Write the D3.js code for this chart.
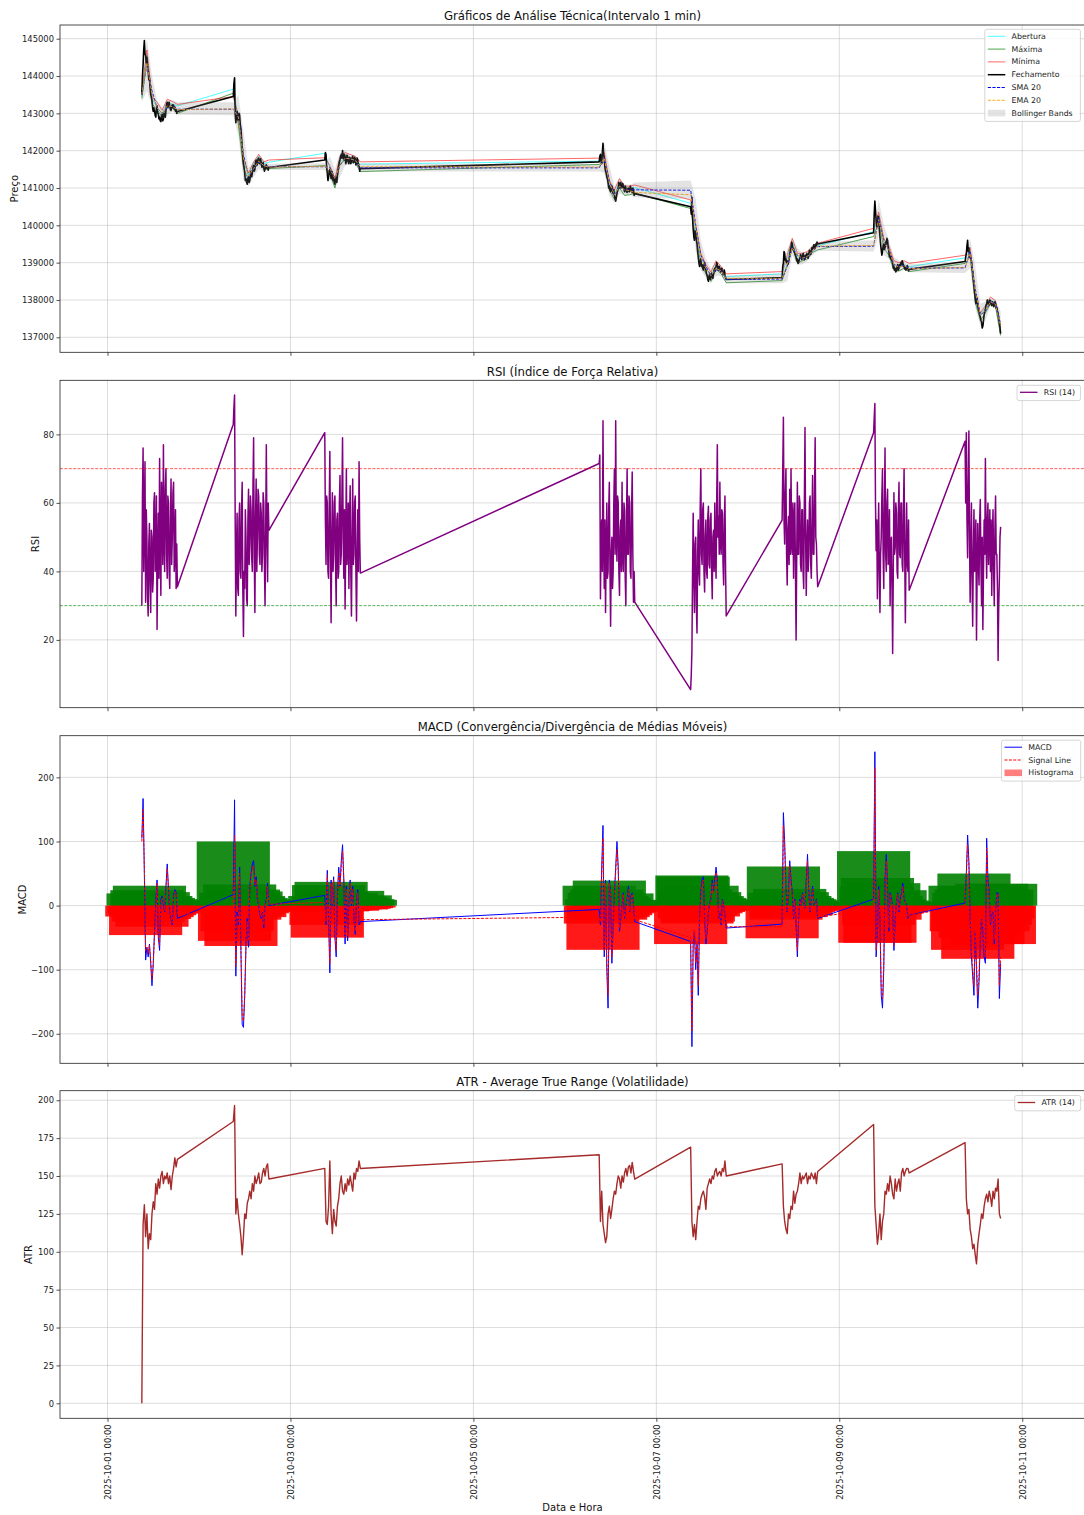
<!DOCTYPE html>
<html><head><meta charset="utf-8">
<script src="https://cdn.jsdelivr.net/npm/d3@7"></script>
<style>
body{margin:0;background:#fff}
svg{display:block}
text{font-family:"DejaVu Sans",sans-serif}
</style>
</head><body>
<svg id="chart" width="1084" height="1515"></svg>
<script>
// ---------------- DATA ----------------
const sessionDates = ["2025-10-01","2025-10-02","2025-10-03","2025-10-06","2025-10-07","2025-10-08","2025-10-09","2025-10-10"];
const sessionOpenHour = 9;
const denseStepMin = 10;   // close, RSI
const fineStepMin = 20;    // MACD, signal, histogram, ATR
const coarseStepMin = 80;  // open, max, min, SMA, EMA, Bollinger
const xLimits = ["2025-09-30T11:32:00Z","2025-10-11T16:28:00Z"];
const xTickLabels = ["2025-10-01 00:00","2025-10-03 00:00","2025-10-05 00:00","2025-10-07 00:00","2025-10-09 00:00","2025-10-11 00:00"];

const priceTicks = [137000,138000,139000,140000,141000,142000,143000,144000,145000];
const rsiTicks = [20,40,60,80];
const macdTicks = [-200,-100,0,100,200];
const atrTicks = [0,25,50,75,100,125,150,175,200];
const priceLimits = [136598,145367];
const rsiLimits = [0.2,95.8];
const macdLimits = [-246,265];
const atrLimits = [-9.9,206.3];
const rsiLevels = [70,30];

// Fechamento (10-min, per session)
const closeV = [
 [143500,144000,144300,144700,144950,144600,144550,144350,144500,144250,144150,143900,143950,143700,143500,143450,143350,143150,143050,143150,143080,142950,142900,143100,143200,143000,142980,142850,142900,142800,142780,142920,142980,142800,142850,143000,142980,142900,143080,143250,143300,143150,143250,143300,143200,143100,143080,143180,143230,143150,143220,143120,143170,143060,143100,143000,143050],
 [143450,143800,143950,143000,142750,142900,143050,142850,142800,143000,142950,142700,142600,142350,142100,141850,141650,141550,141400,141200,141250,141150,141100,141250,141300,141150,141200,141350,141450,141300,141400,141550,141600,141450,141500,141700,141750,141600,141650,141780,141800,141650,141700,141780,141680,141560,141600,141680,141550,141450,141500,141600,141620,141520,141580,141480,141550],
 [141750,141950,141900,141550,141400,141200,141300,141450,141500,141350,141250,141450,141400,141200,141300,141150,141100,141300,141250,141150,141350,141500,141600,141700,141750,141850,141900,141800,142000,141850,141750,141900,141850,141650,141700,141880,141850,141700,141650,141820,141800,141650,141700,141820,141850,141680,141700,141820,141780,141620,141650,141800,141750,141600,141620,141450,141520],
 [141700,141850,141900,141700,141650,141950,142200,141900,141800,141550,141450,141400,141300,141250,141150,141000,141050,140950,140900,141000,141050,140900,140850,140950,140800,140700,140650,140750,140850,140950,141000,141150,141100,141000,141150,141050,141000,141120,141050,140950,140900,141050,141000,140900,140880,140980,141000,140900,140900,141050,141000,140920,140880,141000,140950,140800,140850],
 [140500,140300,140750,140200,139900,139700,139600,139850,139800,139600,139500,139300,139150,139000,138900,139050,139100,138900,138950,138850,138800,138950,139000,138850,138800,138700,138650,138550,138500,138650,138700,138550,138600,138720,138650,138580,138700,138800,138850,138780,138900,139000,138950,138850,138800,138900,138850,138750,138780,138850,138750,138680,138720,138800,138650,138600,138550],
 [138600,138900,139000,139300,139250,139050,139100,139000,139050,138950,139000,139100,139200,139350,139400,139550,139500,139350,139380,139300,139250,139200,139150,139050,139100,138980,139000,139080,139120,139220,139180,139080,139120,139250,139200,139080,139100,139200,139150,139250,139180,139120,139250,139330,139280,139220,139320,139400,139350,139420,139480,139380,139420,139500,139450,139550,139500],
 [139800,140300,140650,140400,140150,139950,140000,140250,140200,139900,139700,139500,139350,139200,139300,139450,139500,139350,139400,139550,139500,139650,139600,139400,139300,139150,139250,139100,139150,139050,139000,138850,138900,138800,138850,138750,138780,138900,138950,138800,138850,138950,138900,139000,138950,139050,139000,138900,138920,138830,138880,138800,138850,138920,138870,138780,138820],
 [139030,139150,139250,139450,139600,139300,139400,139150,139250,139100,139050,138850,138750,138550,138400,138200,138050,137900,137950,138050,137850,137750,137700,137600,137550,137450,137400,137250,137300,137450,137600,137700,137750,137850,137900,138000,137950,137850,137880,138000,137980,137880,137850,137950,137920,137820,137850,137950,137900,137780,137800,137700,137650,137500,137400,137250,137100]
];
// Abertura (coarse)
const openV = [
 [143450,144550,143400,143150,143000,143280,143250,143200],
 [143650,142850,141700,141350,141650,141850,141650,141690],
 [141930,141550,141150,141700,141800,141780,141750,141640],
 [141720,141850,141100,140850,141150,140950,140950,141010],
 [140590,139900,139150,138850,138650,138950,138800,138630],
 [138700,139100,139550,139150,139150,139220,139400,139450],
 [139830,140250,139550,139350,138950,138900,138950,138890],
 [139130,139300,138150,137600,137800,138000,137920,137200]
];
// Máxima (coarse, green line)
const maximaV = [
 [143400,144400,143250,143100,142900,143200,143150,143000],
 [143540,142700,141550,141200,141500,141700,141500,141520],
 [141600,141400,141000,141650,141750,141700,141680,141440],
 [141630,141700,140950,140700,141000,140800,140820,140860],
 [140450,139700,139000,138700,138500,138820,138700,138460],
 [138520,138950,139400,139000,139050,139100,139280,139340],
 [139700,140100,139400,139200,138800,138780,138850,138760],
 [138980,139150,137950,137450,137650,137900,137820,137050]
];
// Mínima (coarse, red line)
const minimaV = [
 [143600,144700,143450,143300,143080,143380,143320,143240],
 [143450,142950,141800,141400,141700,141900,141700,141750],
 [141810,141600,141250,141850,141950,141900,141850,141700],
 [141800,141950,141200,140950,141250,141050,141050,141080],
 [140680,140000,139250,138950,138750,139050,138900,138700],
 [138760,139200,139650,139250,139250,139300,139450,139520],
 [139920,140350,139650,139450,139050,139000,139050,138980],
 [139200,139400,138200,137650,137850,138080,137980,137250]
];
const sma20V = [
 [143500,144300,143600,143150,143000,143150,143200,143110],
 [143110,142950,141900,141300,141500,141700,141600,141570],
 [141570,141550,141250,141600,141800,141780,141750,141540],
 [141540,141800,141200,140800,141050,140950,140950,140950],
 [140940,140000,139200,138900,138650,138800,138800,138550],
 [138560,138900,139400,139200,139100,139150,139300,139430],
 [139440,140200,139600,139350,138950,138900,138920,138850],
 [138860,139300,138300,137600,137700,137950,137900,137350]
];
const ema20V = [
 [143500,144350,143500,143150,143000,143200,143180,143100],
 [143120,142900,141800,141320,141520,141720,141600,141560],
 [141580,141520,141250,141620,141800,141780,141740,141570],
 [141560,141800,141150,140820,141050,140950,140930,140880],
 [140820,139950,139150,138850,138650,138850,138780,138580],
 [138580,138950,139400,139200,139120,139170,139320,139440],
 [139460,140150,139550,139350,138950,138880,138920,138840],
 [138870,139250,138250,137600,137720,137950,137880,137300]
];
const bbUpperV = [
 [143700,145000,144000,143350,143150,143350,143350,143300],
 [143300,143500,142500,141550,141700,141900,141750,141650],
 [141660,141850,141500,141950,142000,141900,141850,141650],
 [141640,142200,141600,141050,141250,141100,141080,141150],
 [141200,140700,139600,139100,138850,139000,138900,138650],
 [138700,139350,139650,139400,139250,139280,139450,139550],
 [139600,140700,140000,139600,139150,139050,139000,138960],
 [139000,139650,138900,137900,137950,138050,138000,137700]
];
const bbLowerV = [
 [143300,143600,143200,142950,142850,142950,143050,142960],
 [142950,142400,141200,141050,141300,141500,141450,141480],
 [141480,141250,141000,141300,141600,141650,141620,141440],
 [141440,141400,140800,140600,140850,140800,140820,140750],
 [140700,139300,138800,138600,138450,138650,138650,138450],
 [138450,138500,139200,138950,138950,139050,139200,139320],
 [139300,139700,139200,139100,138750,138750,138800,138740],
 [138720,138850,137800,137300,137450,137850,137780,137000]
];
// RSI (10-min)
const rsiV = [
 [30,62,76,40,55,72,31,58,50,33,27,48,54,36,28,52,50,34,38,60,63,40,45,62,23,44,57,38,73,48,33,66,60,42,77,50,40,64,70,45,38,62,60,40,35,55,67,42,50,63,66,40,45,58,35,48,35.5],
 [83,88,91.5,55,27,45,57,35,33,55,60,40,38,58,66,35,21,40,35,58,50,32,30,55,64,42,48,62,58,44,40,65,79,45,28,55,67,40,50,64,62,45,42,60,57,40,45,63,60,42,30,52,77,50,37,60,52],
 [80.5,55,42,62,60,40,38,58,75,45,25,50,63,40,45,60,62,42,30,55,57,38,40,60,68,42,45,62,79,50,38,58,29,48,70,42,48,60,35,55,65,40,27,50,67,42,45,60,62,40,25.5,45,58,40,72,50,39.5],
 [71.5,74,32,50,55,40,84,50,35,55,28,45,60,38,40,58,66,40,24,45,50,35,40,60,70,45,84,50,43,62,60,40,33,52,55,40,66,45,40,60,58,38,30,55,70,45,45,62,60,40,38,58,69,45,31,40,31],
 [5.5,10,17,40,57,38,28,48,50,30,22,45,55,40,36,58,70,45,42,58,60,40,34,50,55,40,38,56,59,42,41,55,57,40,32,50,52,40,60,45,38,60,77,50,56,45,66,48,45,58,57,42,36,55,62,40,27],
 [55,70,85,55,48,62,70,45,36,52,56,42,64,45,70,48,45,60,38,55,60,40,20,45,66,45,45,62,60,42,40,58,58,40,35,60,82,50,33,48,55,40,45,60,62,42,38,55,68,45,45,62,79,50,48,40,35.5],
 [80.5,85,89,60,46,55,32,48,60,40,28,45,50,62,70,45,35,58,76,45,40,60,64,42,45,58,30,48,50,35,16,40,63,45,47,60,57,40,38,58,66,45,44,60,60,42,40,58,70,45,25,45,60,42,40,55,34.5],
 [78,60,80.5,55,44,65,81,50,31,48,60,38,24,45,58,40,45,55,20,40,54,42,36,55,61,42,30,50,23,40,55,45,73,50,38,55,60,42,50,58,40,55,33,50,58,40,30,52,62,45,45,35,14,30,38,50,53]
];
const macdV = [
 [105,167,50,-85,-65,-80,-60,-90,-125,-90,-40,5,40,-50,-70,10,15,0,-10,30,65,25,-10,-20,-30,15,25,20,-20],
 [17,165,-110,-10,-30,60,-70,-185,-190,-140,-60,-20,-65,30,50,65,70,30,45,10,0,-15,-20,-10,-35,0,10,35,0],
 [16,-30,55,-20,-105,40,0,45,-50,-80,20,60,30,70,95,40,-60,30,-55,5,40,0,30,-20,-45,10,25,-30,-25],
 [-6,-30,60,125,-80,40,-100,-160,40,20,-90,-30,20,60,100,60,-40,-20,0,20,-20,0,10,30,-10,15,20,0,-25],
 [-56,-220,-60,-40,-100,-60,-140,-20,20,40,45,-20,-60,-40,-10,5,10,40,20,40,60,40,-20,-10,-30,10,0,-15,-35],
 [-29,145,100,30,-10,20,70,40,20,-20,10,-30,-80,-20,10,0,20,5,-5,40,80,20,-10,10,30,0,5,10,-20],
 [10,240,-80,-40,30,-20,-140,-160,-100,40,80,30,-40,20,10,0,-70,-20,5,20,-10,10,20,35,10,5,0,-20,-15],
 [4,50,110,70,-20,-80,-110,-140,-40,-100,-160,-120,-50,-20,-40,-80,-90,105,40,20,-30,-10,-10,-60,-10,20,20,-145,-90]
];
const signalV = [
 [100,150,60,-70,-65,-75,-62,-85,-115,-92,-45,0,35,-40,-62,5,12,2,-8,25,58,28,-5,-18,-27,12,22,18,-15],
 [-5,110,-95,-15,-25,50,-60,-170,-180,-140,-65,-25,-55,25,45,58,62,32,40,12,2,-12,-18,-12,-30,-2,8,30,2],
 [5,-25,48,-15,-90,35,2,40,-45,-70,15,52,28,62,85,38,-50,25,-48,5,35,2,25,-18,-40,8,20,-25,-22],
 [-18,-25,50,105,-70,35,-85,-140,35,18,-80,-28,18,52,88,55,-35,-18,0,18,-18,0,8,25,-8,12,18,0,-22],
 [-50,-195,-55,-38,-90,-55,-125,-20,15,35,40,-18,-52,-35,-10,5,8,35,18,35,52,35,-18,-10,-28,8,0,-14,-33],
 [-33,125,90,28,-8,18,62,35,18,-18,8,-28,-70,-18,8,0,18,5,-5,35,70,18,-8,8,26,0,5,8,-18],
 [-5,215,-70,-35,25,-18,-125,-145,-90,35,70,28,-35,18,8,0,-62,-18,5,18,-8,8,18,30,8,5,0,-18,-15],
 [0,45,95,62,-18,-70,-98,-125,-38,-88,-140,-108,-45,-18,-35,-70,-80,90,35,18,-26,-8,-8,-52,-8,18,18,-125,-80]
];
const histV = [
 [-17,19,-12,-46,24,-25,31,-20,-33,21,-21,15,-18,12,-15,10,-12,8,-10,8,-8,6,-8,5,-6,5,-5,4,-4],
 [100,-55,20,-40,15,33,-63,20,25,-22,22,-15,15,-18,12,-12,10,-10,8,-8,6,-6,5,-5,4,-4,3,-3,3],
 [15,-30,-50,32,-8,37,-9,20,-8,15,-7,18,-6,20,-8,15,-6,12,23,-5,14,-6,12,-5,16,-4,10,-3,9],
 [31,-28,10,-69,20,-15,25,-20,39,-22,15,-18,12,-15,19,-12,9,-10,8,-8,7,-6,6,-5,5,-5,4,-4,3],
 [-60,47,45,-20,25,-28,-25,20,-15,31,-17,21,-12,15,-10,12,-8,10,-8,8,-6,6,-5,5,-4,4,-3,3,-3],
 [-51,61,20,-22,15,-15,26,-18,21,-12,15,-15,12,-10,10,-8,8,-8,6,-6,5,-5,5,-4,4,-4,3,-3,3],
 [85,-58,30,43,-30,-58,20,-15,35,-22,15,-12,10,24,-10,8,-8,6,-6,5,-5,5,-4,4,-4,3,-3,3,-3],
 [31,-40,-69,20,-30,25,-40,50,-50,30,-83,25,-40,30,-45,20,-35,25,-60,28,-30,34,-40,20,-30,25,-20,-60,34]
];
const atrV = [
 [0,118,131,110,125,102,112,108,125,133,128,145,138,148,142,150,153,145,150,148,152,145,150,141,150,155,162,156,161],
 [186,196.5,125,135,125,118,110,98,110,125,122,132,135,140,135,145,140,150,145,148,152,145,146,152,155,150,156,158,148],
 [155,120,118,130,160,125,112,128,120,117,130,135,145,150,140,138,145,140,148,144,150,145,140,152,148,155,153,160,155],
 [164,120,140,118,112,106,110,125,130,122,128,135,140,138,145,150,148,142,150,146,152,155,150,156,157,152,159,153,148],
 [169,120,110,118,108,120,130,128,135,138,140,136,128,142,145,148,145,150,148,153,155,150,152,153,150,155,153,160,150],
 [158,130,120,115,112,125,122,130,128,140,132,138,140,145,152,145,150,148,150,152,145,150,148,152,150,148,152,145,153],
 [184,130,118,105,112,125,108,120,125,140,138,145,140,150,145,138,135,148,140,145,148,140,152,155,150,153,155,155,152],
 [172,135,125,128,115,110,102,105,98,92,105,112,118,125,122,130,135,138,133,140,136,130,140,135,142,140,148,125,122]
];
const histBarWidthDays = 0.8;

// ---------------- HELPERS ----------------
const MIN = 60000, DAY = 86400000;
function sessionStart(k){
  const p = sessionDates[k].split("-").map(Number);
  return Date.UTC(p[0], p[1]-1, p[2], sessionOpenHour, 0);
}
function series(arr, step){
  const out = [];
  arr.forEach((sess,k)=>{ const t0 = sessionStart(k); sess.forEach((v,i)=>out.push({t:new Date(t0 + i*step*MIN), v})); });
  return out;
}
function pairSeries(a, b, step){
  const out = [];
  a.forEach((sess,k)=>{ const t0 = sessionStart(k); sess.forEach((v,i)=>out.push({t:new Date(t0 + i*step*MIN), hi:v, lo:b[k][i]})); });
  return out;
}

const svg = d3.select("#chart");
const L = 60, R = 1085;
const panels = [
  {top:25, bottom:352.3},
  {top:380.3, bottom:707.7},
  {top:735.7, bottom:1063.3},
  {top:1090.7, bottom:1418.3}
];
const x = d3.scaleUtc().domain(xLimits.map(s=>new Date(s))).range([L, R]);
const xTickVals = xTickLabels.map(s=>new Date(s.replace(" ","T")+":00Z"));
const yScales = [
  d3.scaleLinear().domain(priceLimits).range([panels[0].bottom, panels[0].top]),
  d3.scaleLinear().domain(rsiLimits).range([panels[1].bottom, panels[1].top]),
  d3.scaleLinear().domain(macdLimits).range([panels[2].bottom, panels[2].top]),
  d3.scaleLinear().domain(atrLimits).range([panels[3].bottom, panels[3].top])
];
const yTicks = [priceTicks, rsiTicks, macdTicks, atrTicks];
const titles = ["Gráficos de Análise Técnica(Intervalo 1 min)","RSI (Índice de Força Relativa)","MACD (Convergência/Divergência de Médias Móveis)","ATR - Average True Range (Volatilidade)"];
const yLabels = ["Preço","RSI","MACD","ATR"];
const yLabelX = [14, 35, 22, 28.5];
const defs = svg.append("defs");

const layers = panels.map((p,i)=>{
  const y = yScales[i];
  const g = svg.append("g");
  defs.append("clipPath").attr("id","clip"+i).append("rect")
    .attr("x",L).attr("y",p.top).attr("width",R-L).attr("height",p.bottom-p.top);
  const grid = g.append("g").attr("stroke","#b0b0b0").attr("stroke-opacity",0.55).attr("stroke-width",0.8);
  xTickVals.forEach(t=>grid.append("line").attr("x1",x(t)).attr("x2",x(t)).attr("y1",p.top).attr("y2",p.bottom));
  yTicks[i].forEach(v=>grid.append("line").attr("x1",L).attr("x2",R).attr("y1",y(v)).attr("y2",y(v)));
  const plot = g.append("g").attr("clip-path","url(#clip"+i+")");
  return {g, plot, y, p};
});

// ---------------- PANEL 1: PRICE ----------------
{
  const {plot, y} = layers[0];
  const bb = pairSeries(bbUpperV, bbLowerV, coarseStepMin);
  const line = d3.line().x(d=>x(d.t)).y(d=>y(d.v));
  const draw = (data, color, w, op, dash)=>plot.append("path").datum(data).attr("fill","none")
      .attr("stroke",color).attr("stroke-width",w).attr("stroke-opacity",op)
      .attr("stroke-dasharray",dash||null).attr("stroke-linejoin","round").attr("d",line);
  draw(series(openV, coarseStepMin), "#00ffff", 1, 0.7);
  draw(series(maximaV, coarseStepMin), "#008000", 1, 0.7);
  draw(series(minimaV, coarseStepMin), "#ff0000", 1, 0.6);
  draw(series(closeV, denseStepMin), "#000000", 1.6, 1);
  draw(series(sma20V, coarseStepMin), "#0000ff", 1, 1, "3.2,1.4");
  draw(series(ema20V, coarseStepMin), "#ffa500", 1, 0.9, "3.2,1.4");
  plot.append("path").datum(bb).attr("fill","#808080").attr("fill-opacity",0.22)
    .attr("d", d3.area().x(d=>x(d.t)).y0(d=>y(d.lo)).y1(d=>y(d.hi)));
}
// ---------------- PANEL 2: RSI ----------------
{
  const {plot, y} = layers[1];
  plot.append("path").datum(series(rsiV, denseStepMin)).attr("fill","none").attr("stroke","#800080")
    .attr("stroke-width",1.5).attr("stroke-linejoin","round")
    .attr("d", d3.line().x(d=>x(d.t)).y(d=>y(d.v)));
  const lvlColors = ["#ff0000","#008000"];
  rsiLevels.forEach((lv,j)=>plot.append("line").attr("x1",L).attr("x2",R).attr("y1",y(lv)).attr("y2",y(lv))
    .attr("stroke",lvlColors[j]).attr("stroke-opacity",0.7).attr("stroke-width",0.9).attr("stroke-dasharray","3,1.4"));
}
// ---------------- PANEL 3: MACD ----------------
{
  const {plot, y} = layers[2];
  const hist = series(histV, fineStepMin);
  const halfW = histBarWidthDays/2*DAY;
  plot.append("g").selectAll("rect").data(hist).join("rect")
    .attr("x", d=>x(new Date(+d.t - halfW)))
    .attr("width", d=>x(new Date(+d.t + halfW)) - x(new Date(+d.t - halfW)))
    .attr("y", d=>Math.min(y(d.v), y(0)))
    .attr("height", d=>Math.abs(y(d.v)-y(0)))
    .attr("fill", d=>d.v>=0 ? "#008000" : "#ff0000")
    .attr("fill-opacity", 0.9);
  const line = d3.line().x(d=>x(d.t)).y(d=>y(d.v));
  plot.append("path").datum(series(macdV, fineStepMin)).attr("fill","none").attr("stroke","#0000ff")
    .attr("stroke-width",1).attr("d",line);
  plot.append("path").datum(series(signalV, fineStepMin)).attr("fill","none").attr("stroke","#ff0000")
    .attr("stroke-width",1).attr("stroke-dasharray","3,1.4").attr("d",line);
}
// ---------------- PANEL 4: ATR ----------------
{
  const {plot, y} = layers[3];
  plot.append("path").datum(series(atrV, fineStepMin)).attr("fill","none").attr("stroke","#a52a2a")
    .attr("stroke-width",1.4).attr("stroke-linejoin","round")
    .attr("d", d3.line().x(d=>x(d.t)).y(d=>y(d.v)));
}

// ---------------- AXES, SPINES, TITLES ----------------
const fmtTime = d3.utcFormat("%Y-%m-%d %H:%M");
layers.forEach((ly,i)=>{
  const {g, y, p} = ly;
  const ya = g.append("g").attr("transform",`translate(${L},0)`)
    .call(d3.axisLeft(y).tickValues(yTicks[i]).tickSize(3.5).tickPadding(2.5).tickFormat(d3.format("d")));
  ya.select(".domain").remove();
  ya.selectAll("line").attr("stroke","#222").attr("stroke-width",0.8);
  ya.selectAll("text").attr("fill","#222").style("font-size","8.4px").style("font-family","DejaVu Sans");
  const xa = g.append("g").attr("transform",`translate(0,${p.bottom})`)
    .call(d3.axisBottom(x).tickValues(xTickVals).tickSize(3.5).tickPadding(2.5).tickFormat(i===3 ? fmtTime : ""));
  xa.select(".domain").remove();
  xa.selectAll("line").attr("stroke","#222").attr("stroke-width",0.8);
  if(i===3){
    xa.selectAll("text").attr("fill","#222").style("font-size","8.4px").style("font-family","DejaVu Sans")
      .attr("transform","rotate(-90)").attr("x",-6).attr("y",0).attr("dy","0.35em").style("text-anchor","end");
  }
  g.append("rect").attr("x",L).attr("y",p.top).attr("width",R-L).attr("height",p.bottom-p.top)
    .attr("fill","none").attr("stroke","#222").attr("stroke-width",0.8);
  g.append("text").attr("x",(L+R)/2).attr("y",p.top-4.8).attr("text-anchor","middle")
    .style("font-size","11.7px").attr("fill","#111").text(titles[i]);
  g.append("text").attr("transform",`translate(${yLabelX[i]},${(p.top+p.bottom)/2}) rotate(-90)`)
    .attr("text-anchor","middle").attr("dominant-baseline","central")
    .style("font-size","10px").attr("fill","#111").text(yLabels[i]);
});
svg.append("text").attr("x",(L+R)/2).attr("y",1511).attr("text-anchor","middle")
  .style("font-size","10px").attr("fill","#111").text("Data e Hora");

// ---------------- LEGENDS ----------------
function legend(bx, by, bw, items){
  const rowH = 12.8;
  const g = svg.append("g");
  g.append("rect").attr("x",bx).attr("y",by).attr("width",bw).attr("height",items.length*rowH+2.5)
    .attr("rx",2).attr("fill","#fff").attr("fill-opacity",0.8).attr("stroke","#cccccc").attr("stroke-width",0.8);
  items.forEach((it,k)=>{
    const cy = by + 7 + k*rowH;
    const x0 = bx + 3, x1 = bx + 20.5;
    if(it.patch){
      g.append("rect").attr("x",x0).attr("y",cy-3.3).attr("width",x1-x0).attr("height",6.6)
        .attr("fill",it.color).attr("fill-opacity",it.op);
    } else {
      g.append("line").attr("x1",x0).attr("x2",x1).attr("y1",cy).attr("y2",cy)
        .attr("stroke",it.color).attr("stroke-width",it.w||1).attr("stroke-opacity",it.op||1)
        .attr("stroke-dasharray",it.dash||null);
    }
    g.append("text").attr("x",x1+6.3).attr("y",cy).attr("dominant-baseline","central")
      .style("font-size","7.8px").attr("fill","#222").text(it.label);
  });
}
legend(984.8, 29.3, 95.6, [
  {label:"Abertura", color:"#00ffff", op:0.7},
  {label:"Máxima", color:"#008000", op:0.7},
  {label:"Mínima", color:"#ff0000", op:0.6},
  {label:"Fechamento", color:"#000", w:1.5},
  {label:"SMA 20", color:"#0000ff", dash:"3.2,1.4", op:1},
  {label:"EMA 20", color:"#ffa500", dash:"3.2,1.4", op:0.9},
  {label:"Bollinger Bands", patch:true, color:"#808080", op:0.22}
]);
legend(1017, 385.3, 63.6, [{label:"RSI (14)", color:"#800080", w:1.3}]);
legend(1001.5, 740.2, 79.2, [
  {label:"MACD", color:"#0000ff"},
  {label:"Signal Line", color:"#ff0000", dash:"3,1.4"},
  {label:"Histograma", patch:true, color:"#ff0000", op:0.5}
]);
legend(1014.7, 1095.5, 66, [{label:"ATR (14)", color:"#a52a2a", w:1.3}]);
</script>
</body></html>
